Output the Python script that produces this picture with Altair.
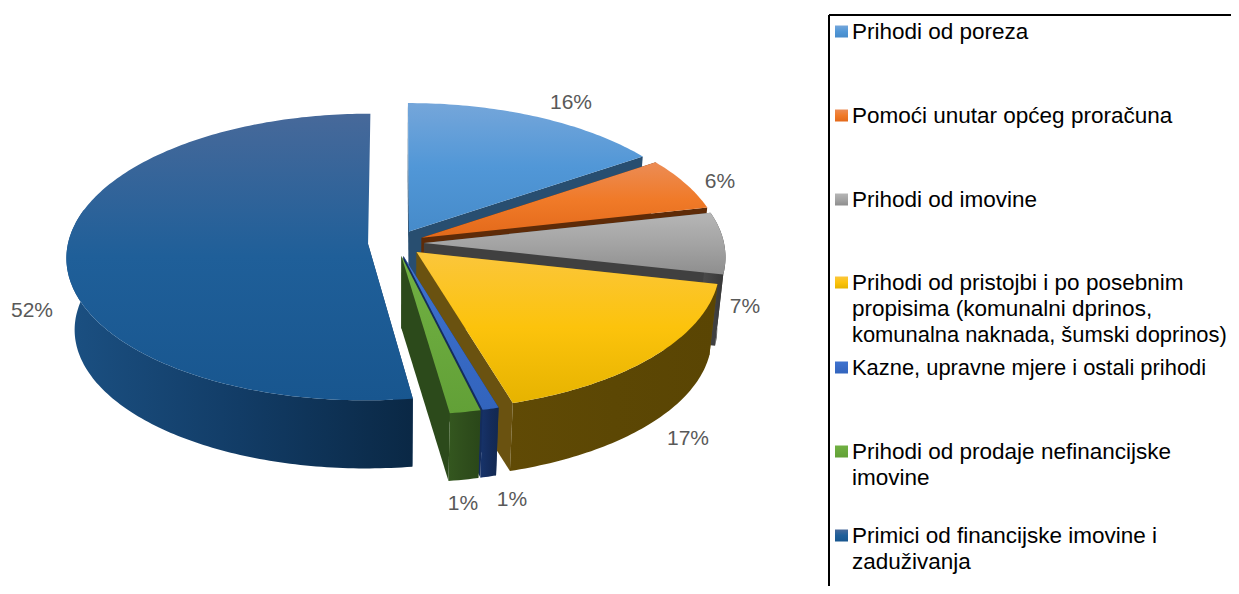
import math
import altair as alt
import pandas as pd

# ---- data -----------------------------------------------------------
categories = [
    "Prihodi od poreza",
    "Pomoći unutar općeg proračuna",
    "Prihodi od imovine",
    "Prihodi od pristojbi i po posebnim\npropisima (komunalni dprinos,\nkomunalna naknada, šumski doprinos)",
    "Kazne, upravne mjere i ostali prihodi",
    "Prihodi od prodaje nefinancijske\nimovine",
    "Primici od financijske imovine i\nzaduživanja",
]
shares = [15.5, 6.0, 7.0, 16.9, 0.8, 1.5, 52.3]
percent_labels = ["16%", "6%", "7%", "17%", "1%", "1%", "52%"]

# ---- styles and layout ----------------------------------------------
top_stops = [
    ["#75a6da", "#5197d7", "#468bca"],
    ["#ec8c55", "#f07a28", "#e3691a"],
    ["#b6b6b6", "#a4a4a4", "#8e8e8e"],
    ["#fbc63c", "#fcc30c", "#e6b300"],
    ["#3f73cf", "#396bc6", "#3264bd"],
    ["#71b043", "#6aa93d", "#62a037"],
    ["#47699a", "#1f5f99", "#18568f"],
]
wall_stops = [
    ["#2b557a", "#284e70", "#224563"],
    ["#6b3210", "#5e2b08", "#522404"],
    ["#4a4a4a", "#404040", "#363636"],
    ["#604a05", "#5c4704", "#5a4503"],
    ["#17336a", "#142c5c", "#12284f"],
    ["#34571f", "#2f4e1c", "#2a4719"],
    ["#1b5082", "#123c66", "#0a2845"],
]
face_stops = ["#284e70", "#5e2b08", "#404040", "#6a5210", "#142c5c", "#2c4a1b", "#12385f"]
draw_order = [6, 0, 1, 2, 3, 4, 5]
hidden_end_face = {6}
label_pos = [(571, 103), (720, 182), (745, 307), (688, 439), (512, 500), (463, 504), (32, 311)]
legend_y = [32, 116, 200, 283, 368, 452, 536]
LINE = 26
CX, CY, A, B, K, EXPLODE, DEPTH, SHRINK = 396, 243, 300, 142, 0.0909, 0.0933, 72, 0.975
BACK_LIMIT = 0.25
RIGHT, BOTTOM = 1231, 586
LEGEND_FONT, LONG_LINE_FONT = 22.5, 21.9


def project(ex, ey, down=False):
    w = 1 + K * ey
    x = CX + A * ex / w
    y = CY - B * ey / w
    if down:
        x = CX + (x - CX) * SHRINK
        y = CY + (y - CY) * SHRINK + DEPTH
    return x, y


def arc(start, end, mid):
    ox, oy = EXPLODE * math.sin(mid), EXPLODE * math.cos(mid)
    n = max(6, int(abs(end - start) * 60))
    return [(ox + math.sin(start + (end - start) * i / n), oy + math.cos(start + (end - start) * i / n))
            for i in range(n + 1)], (ox, oy)


def poly_layer(points, stops, horizontal=False):
    df = pd.DataFrame({"px": [p[0] for p in points + points[:1]],
                       "py": [p[1] for p in points + points[:1]],
                       "i": range(len(points) + 1)})
    grad = alt.LinearGradient(
        gradient="linear",
        stops=[alt.GradientStop(offset=o, color=c) for o, c in zip([0, 0.5, 1], stops)],
        x1=0, x2=1 if horizontal else 0, y1=0, y2=0 if horizontal else 1,
    )
    return alt.Chart(df).mark_line(fill=grad, strokeOpacity=0, interpolate="linear").encode(
        x=alt.X("px:Q", scale=X_SCALE, axis=None),
        y=alt.Y("py:Q", scale=Y_SCALE, axis=None),
        order="i:Q",
    )


X_SCALE = alt.Scale(domain=[8, RIGHT], range=[0, RIGHT - 8], nice=False, zero=False)
Y_SCALE = alt.Scale(domain=[8, BOTTOM], range=[0, BOTTOM - 8], nice=False, zero=False)

edges = [0]
for s in shares:
    edges.append(edges[-1] + s)
angles = [e / sum(shares) * 2 * math.pi for e in edges]

layers = []
for idx in draw_order:
    a0, a1 = angles[idx], angles[idx + 1]
    rim, apex = arc(a0, a1, (a0 + a1) / 2)
    top = [project(*p) for p in rim]
    low = [project(*p, down=True) for p in rim]
    ap_t, ap_b = project(*apex), project(*apex, down=True)
    f = [face_stops[idx]] * 3
    layers.append(poly_layer([ap_t, top[0], low[0], ap_b], f))
    if idx not in hidden_end_face:
        layers.append(poly_layer([ap_t, top[-1], low[-1], ap_b], f))
    front = [i for i, p in enumerate(rim) if p[1] <= BACK_LIMIT]
    if len(front) >= 2:
        layers.append(poly_layer([top[i] for i in front] + [low[i] for i in front[::-1]],
                                 wall_stops[idx], horizontal=True))
    layers.append(poly_layer([ap_t] + top, top_stops[idx]))

# percentage labels
lab = pd.DataFrame({"px": [p[0] for p in label_pos], "py": [p[1] for p in label_pos], "t": percent_labels})
layers.append(alt.Chart(lab).mark_text(font="Liberation Sans", fontSize=21, color="#595959").encode(
    x=alt.X("px:Q", scale=X_SCALE, axis=None), y=alt.Y("py:Q", scale=Y_SCALE, axis=None), text="t:N"))

# legend frame
frame = pd.DataFrame({"x": [829, 829], "y": [15, 15], "x2": [829, RIGHT], "y2": [BOTTOM, 15]})
layers.append(alt.Chart(frame).mark_rule(color="#000000", strokeWidth=2).encode(
    x=alt.X("x:Q", scale=X_SCALE, axis=None), x2="x2:Q",
    y=alt.Y("y:Q", scale=Y_SCALE, axis=None), y2="y2:Q"))

# legend entries
rows = []
for c, y in zip(categories, legend_y):
    for j, line in enumerate(c.split("\n")):
        rows.append({"px": 852, "py": y + j * LINE, "t": line})
rows = pd.DataFrame(rows)
long_line = rows["t"].str.len() >= 35
for subset, size in ((rows[~long_line], LEGEND_FONT), (rows[long_line], LONG_LINE_FONT)):
    layers.append(alt.Chart(subset).mark_text(
        font="Liberation Sans", fontSize=size, color="#000000", align="left").encode(
        x=alt.X("px:Q", scale=X_SCALE, axis=None), y=alt.Y("py:Q", scale=Y_SCALE, axis=None), text="t:N"))

for idx, y in enumerate(legend_y):
    sq = pd.DataFrame({"x": [835], "x2": [848], "y": [y - 6.5], "y2": [y + 5.5]})
    grad = alt.LinearGradient(
        gradient="linear",
        stops=[alt.GradientStop(offset=o, color=c) for o, c in zip([0, 0.5, 1], top_stops[idx])],
        x1=0, x2=0, y1=0, y2=1,
    )
    layers.append(alt.Chart(sq).mark_rect(fill=grad).encode(
        x=alt.X("x:Q", scale=X_SCALE, axis=None), x2="x2:Q",
        y=alt.Y("y:Q", scale=Y_SCALE, axis=None), y2="y2:Q"))

chart = alt.layer(*layers).properties(
    width=RIGHT - 8, height=BOTTOM - 8, padding=0, background="white",
    autosize=alt.AutoSizeParams(type="none"),
).configure_view(stroke=None)

chart.save("out.html", embed_options={"renderer": "svg", "actions": False})
